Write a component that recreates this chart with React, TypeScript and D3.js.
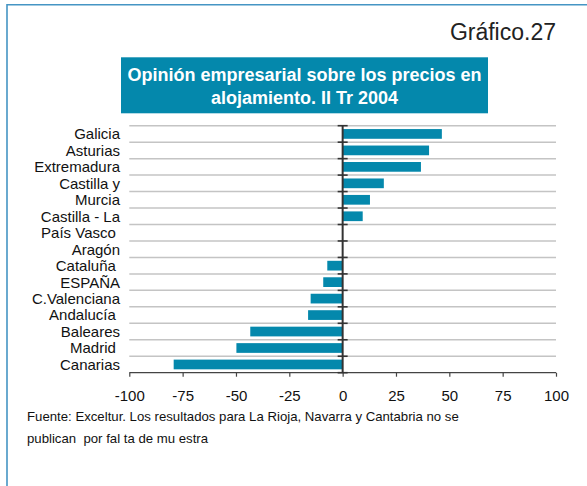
import { useEffect, useRef } from 'react';
import { scaleBand, scaleLinear, select, axisBottom, range } from 'd3';

const regions = [
  'Galicia',
  'Asturias',
  'Extremadura',
  'Castilla y',
  'Murcia',
  'Castilla - La',
  'País Vasco ',
  'Aragón',
  'Cataluña ',
  'ESPAÑA',
  'C.Valenciana',
  'Andalucía ',
  'Baleares',
  'Madrid ',
  'Canarias',
];
const opinion = [46.5, 40.5, 36.7, 19.3, 12.8, 9.4, 0, 0, -7.2, -9.1, -15, -16.2, -43.3, -49.8, -79.2];
const xTicks = [-100, -75, -50, -25, 0, 25, 50, 75, 100];

const titleLines = ['Opinión empresarial sobre los precios en', 'alojamiento. II Tr 2004'];
const noteLines = [
  'Fuente: Exceltur. Los resultados para La Rioja, Navarra y Cantabria no se',
  'publican  por fal ta de mu estra',
];

const teal = '#0488ac';
const font = '"Liberation Sans", Arial, sans-serif';

export default function App() {
  const svgRef = useRef<SVGSVGElement>(null);

  useEffect(() => {
    if (!svgRef.current) return;
    const svg = select(svgRef.current);
    svg.selectAll('*').remove();

    const width = 587;
    const height = 486;
    svg.attr('width', width).attr('height', height);

    // frame
    svg.append('rect')
      .attr('x', 0).attr('y', 0).attr('width', width).attr('height', height)
      .attr('fill', '#fff');
    svg.append('path')
      .attr('d', `M7,${height} V4.7 H${width}`)
      .attr('fill', 'none')
      .attr('stroke', '#4595c4')
      .attr('stroke-width', 1.6);

    svg.append('text')
      .attr('x', 556).attr('y', 40)
      .attr('text-anchor', 'end')
      .attr('font-family', font)
      .attr('font-size', 23)
      .attr('fill', '#222')
      .text('Gráfico.27');

    // title box
    svg.append('rect')
      .attr('x', 121).attr('y', 57.3).attr('width', 367).attr('height', 56)
      .attr('fill', teal);
    svg.selectAll('.title')
      .data(titleLines)
      .enter()
      .append('text')
      .attr('class', 'title')
      .attr('x', 304.5)
      .attr('y', (_d, i) => 81 + i * 22.7)
      .attr('text-anchor', 'middle')
      .attr('font-family', font)
      .attr('font-size', 18)
      .attr('font-weight', 'bold')
      .attr('fill', '#fff')
      .text((d) => d);

    // scales
    const x = scaleLinear().domain([-100, 100]).range([129.3, 556]);
    const y = scaleBand<string>()
      .domain(regions)
      .range([125.7, 372.7])
      .paddingInner(0.41)
      .paddingOuter(0.205);
    const step = y.step();
    const boundaries = range(regions.length + 1).map((i) => 125.7 + i * step);

    // gridlines
    svg.append('g')
      .selectAll('line')
      .data(boundaries.slice(0, -1))
      .enter()
      .append('line')
      .attr('x1', x(-100)).attr('x2', x(100))
      .attr('y1', (d) => d).attr('y2', (d) => d)
      .attr('stroke', '#c4c4c4')
      .attr('stroke-width', 1.5);

    // bars
    svg.append('g')
      .selectAll('rect')
      .data(regions)
      .enter()
      .append('rect')
      .attr('x', (_d, i) => x(Math.min(0, opinion[i])))
      .attr('y', (d) => y(d) || 0)
      .attr('width', (_d, i) => Math.abs(x(opinion[i]) - x(0)))
      .attr('height', y.bandwidth())
      .attr('fill', teal);

    // bottom axis
    const xAxis = axisBottom(x)
      .tickValues(xTicks)
      .tickSize(4)
      .tickPadding(14)
      .tickFormat((d) => String(d));
    const gx = svg.append('g')
      .attr('transform', 'translate(0,372.7)')
      .call(xAxis);
    gx.select('.domain').attr('stroke', '#444').attr('stroke-width', 1.2).attr('d', `M${x(-100)},0H${x(100)}`);
    gx.selectAll('.tick line').attr('stroke', '#444').attr('stroke-width', 1.2);
    gx.selectAll('.tick text')
      .attr('font-family', font)
      .attr('font-size', 15)
      .attr('fill', '#111');

    // zero axis with crossing ticks
    const zero = x(0);
    svg.append('line')
      .attr('x1', zero).attr('x2', zero)
      .attr('y1', 125.7).attr('y2', 372.7)
      .attr('stroke', '#333')
      .attr('stroke-width', 2);
    svg.append('g')
      .selectAll('line')
      .data(boundaries)
      .enter()
      .append('line')
      .attr('x1', zero - 5).attr('x2', zero + 5)
      .attr('y1', (d) => d).attr('y2', (d) => d)
      .attr('stroke', '#333')
      .attr('stroke-width', 1.6);

    // category labels
    svg.append('g')
      .selectAll('text')
      .data(regions)
      .enter()
      .append('text')
      .attr('x', 120)
      .attr('y', (d) => (y(d) || 0) + y.bandwidth() / 2)
      .attr('dy', '0.36em')
      .attr('text-anchor', 'end')
      .attr('xml:space', 'preserve')
      .style('white-space', 'pre')
      .attr('font-family', font)
      .attr('font-size', 15)
      .attr('fill', '#111')
      .text((d) => d);

    // footnote
    svg.selectAll('.note')
      .data(noteLines)
      .enter()
      .append('text')
      .attr('class', 'note')
      .attr('x', 27)
      .attr('y', (_d, i) => 421 + i * 21.5)
      .attr('xml:space', 'preserve')
      .style('white-space', 'pre')
      .attr('font-family', font)
      .attr('font-size', 13.2)
      .attr('fill', '#111')
      .text((d) => d);
  }, []);

  return (
    <div style={{ position: 'absolute', left: 0, top: 0 }}>
      <svg ref={svgRef} style={{ display: 'block' }} />
    </div>
  );
}
